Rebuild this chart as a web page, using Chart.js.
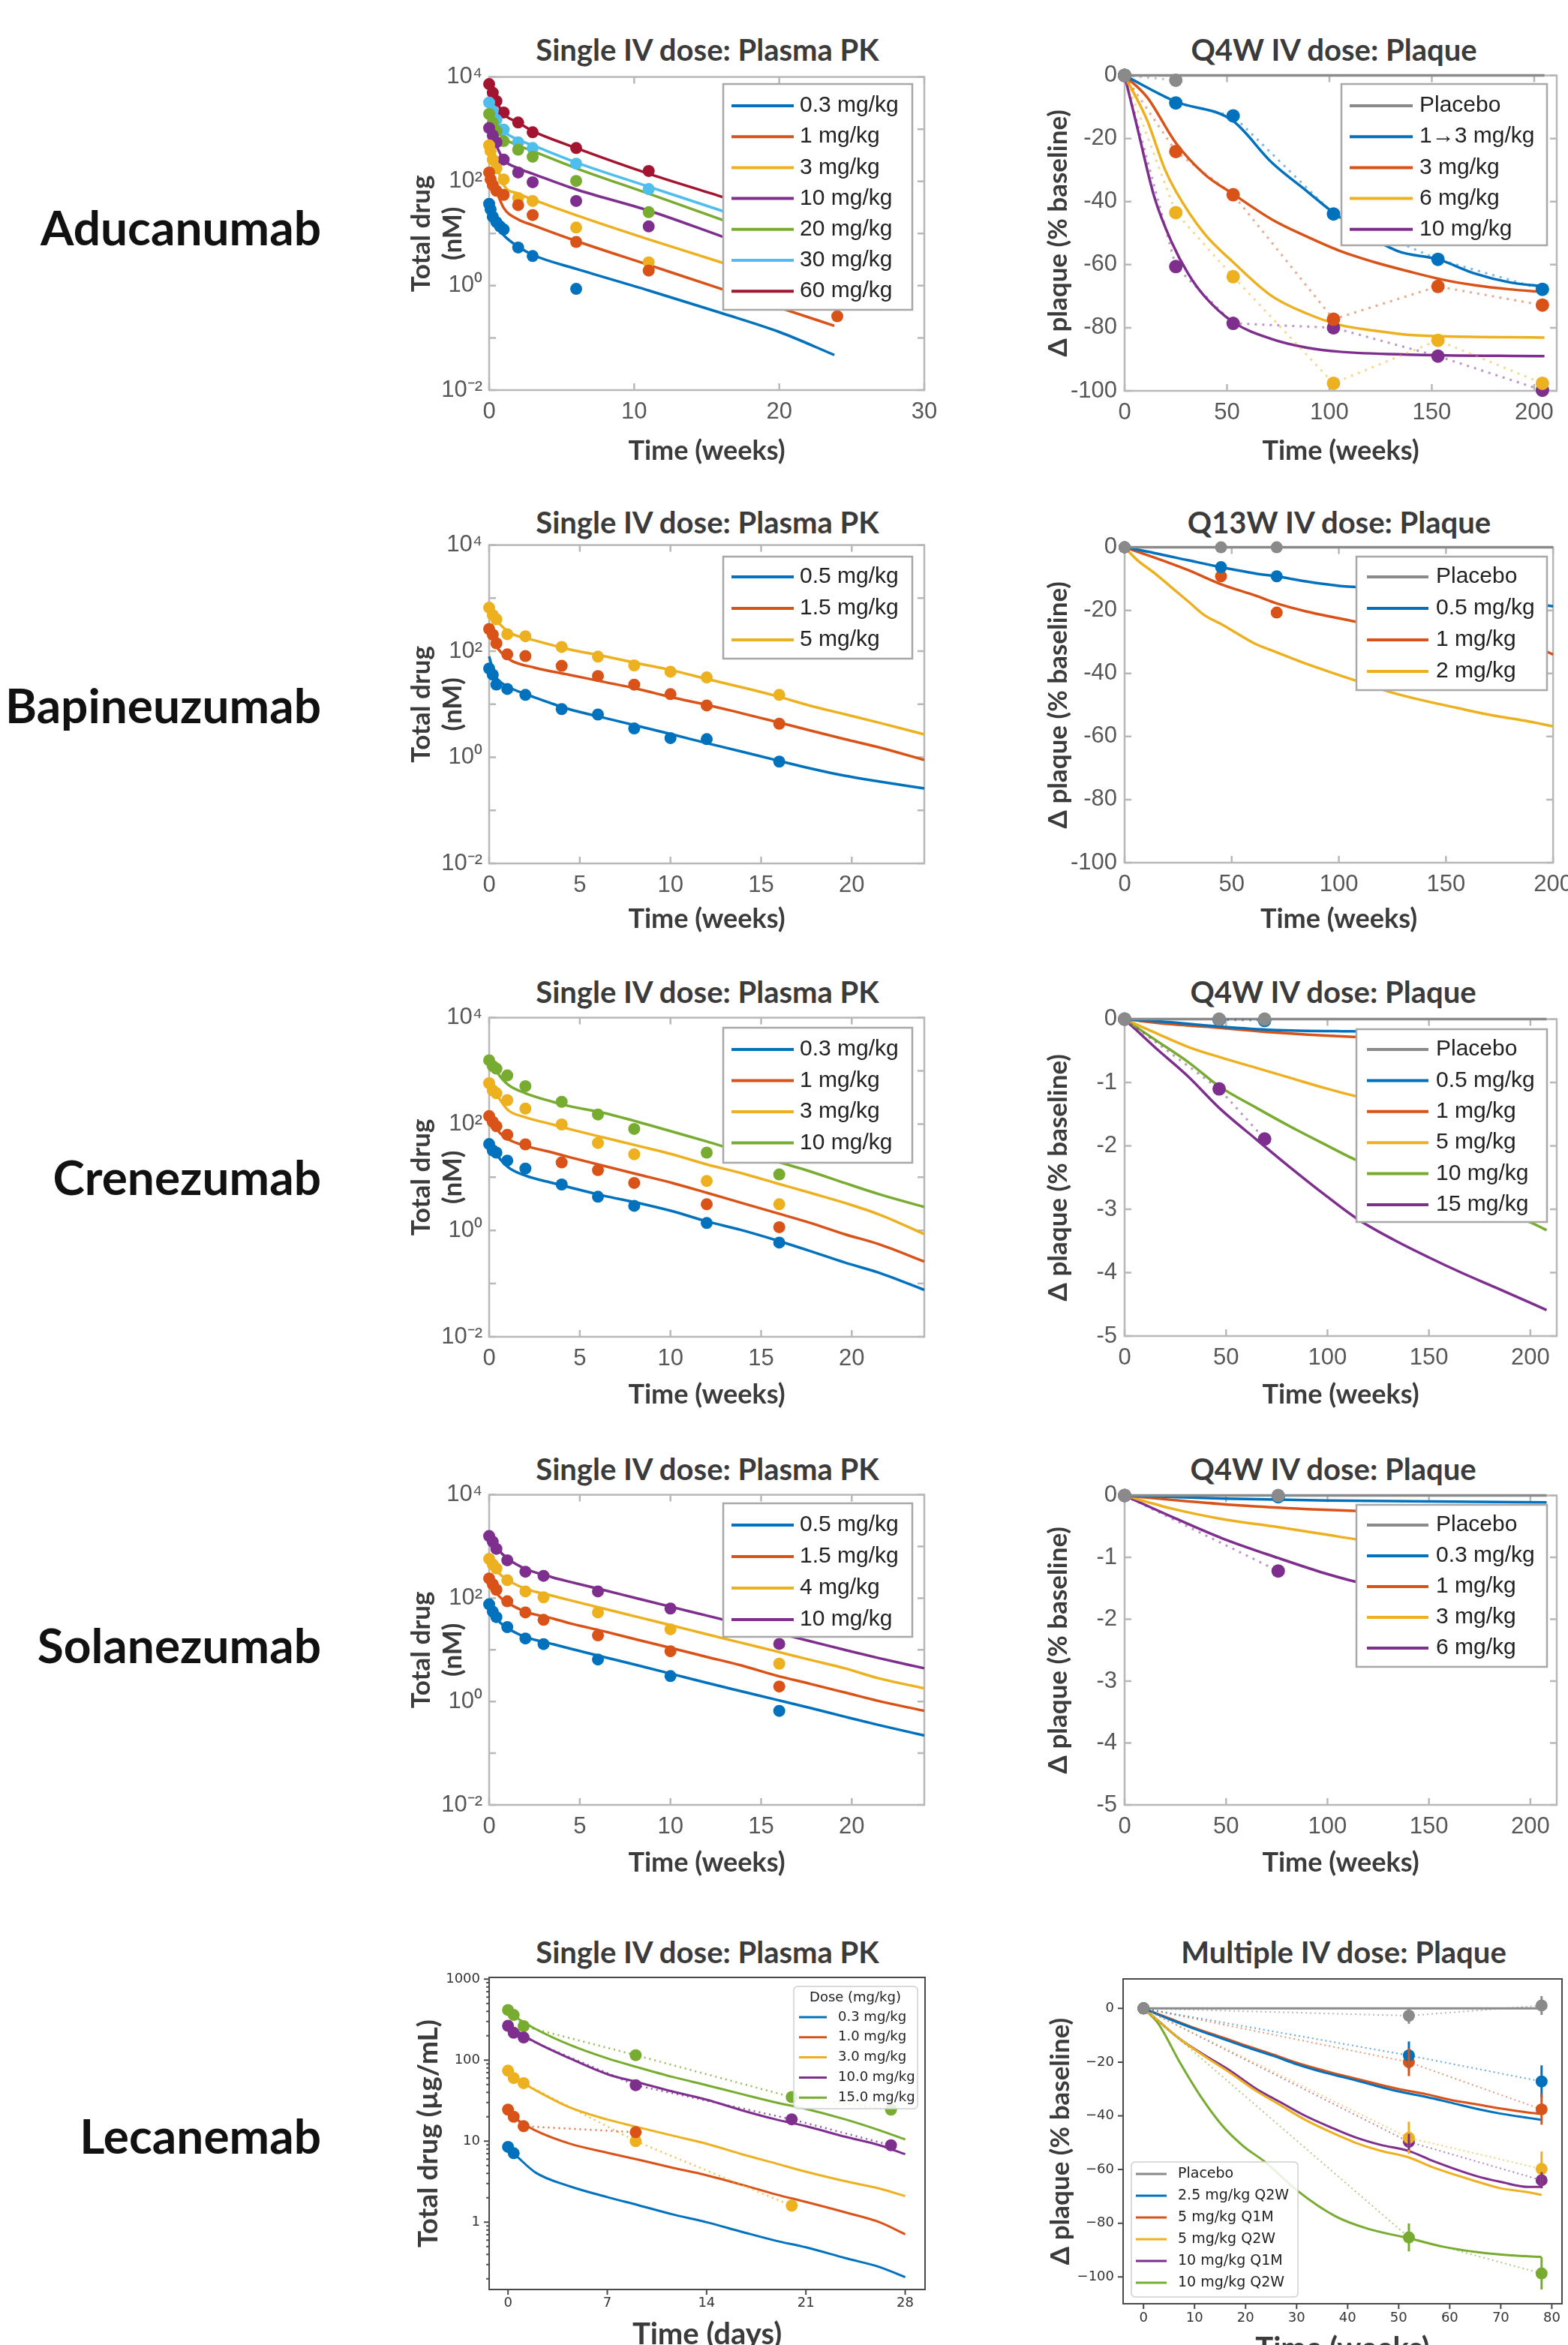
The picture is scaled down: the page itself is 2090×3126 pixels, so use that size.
<!DOCTYPE html>
<html><head><meta charset="utf-8"><title>Anti-amyloid antibodies: plasma PK and plaque</title>
<script src="https://cdn.jsdelivr.net/npm/chart.js@4.4.1/dist/chart.umd.min.js"></script>
<style>
html,body{margin:0;padding:0;background:#fff;}
body{width:2090px;height:3126px;overflow:hidden;position:relative;}
canvas{position:absolute;}
.rl{position:absolute;right:1662px;font:700 64px Lato,sans-serif;color:#111;line-height:1;white-space:nowrap;transform:translateY(-50%);}
.pt{position:absolute;font:700 40px Lato,sans-serif;color:#3b3b3b;line-height:1;white-space:nowrap;transform:translate(-50%,-50%);}
</style></head><body>
<div class="rl" style="top:303px">Aducanumab</div>
<div class="rl" style="top:940px">Bapineuzumab</div>
<div class="rl" style="top:1569px">Crenezumab</div>
<div class="rl" style="top:2193px">Solanezumab</div>
<div class="rl" style="top:2847px">Lecanemab</div>

<div class="pt" style="left:943px;top:66px">Single IV dose: Plasma PK</div>
<div class="pt" style="left:1778px;top:66px">Q4W IV dose: Plaque</div>
<div class="pt" style="left:943px;top:696px">Single IV dose: Plasma PK</div>
<div class="pt" style="left:1785px;top:696px">Q13W IV dose: Plaque</div>
<div class="pt" style="left:943px;top:1322px">Single IV dose: Plasma PK</div>
<div class="pt" style="left:1777px;top:1322px">Q4W IV dose: Plaque</div>
<div class="pt" style="left:943px;top:1958px">Single IV dose: Plasma PK</div>
<div class="pt" style="left:1777px;top:1958px">Q4W IV dose: Plaque</div>
<div class="pt" style="left:943px;top:2602px">Single IV dose: Plasma PK</div>
<div class="pt" style="left:1791px;top:2602px">Multiple IV dose: Plaque</div>

<canvas id="cA" width="721" height="548" style="left:541px;top:75px"></canvas>
<canvas id="cB" width="715" height="551" style="left:1390px;top:72px"></canvas>
<canvas id="cC" width="721" height="548" style="left:541px;top:699px"></canvas>
<canvas id="cD" width="717" height="546" style="left:1390px;top:701px"></canvas>
<canvas id="cE" width="721" height="552" style="left:541px;top:1329px"></canvas>
<canvas id="cF" width="715" height="551" style="left:1390px;top:1330px"></canvas>
<canvas id="cG" width="721" height="540" style="left:541px;top:1965px"></canvas>
<canvas id="cH" width="715" height="540" style="left:1390px;top:1965px"></canvas>
<canvas id="cI" width="714" height="524" style="left:549px;top:2612px"></canvas>
<canvas id="cJ" width="719" height="541" style="left:1393px;top:2614px"></canvas>

<script>
// ================= DATA =================
// ---- tick values / labels ----
const pkYTicks = [0.01, 0.1, 1, 10, 100, 1000, 10000];
const pkYTickLabels = ['10\u207B\u00B2', '', '10\u2070', '', '10\u00B2', '', '10\u2074'];
const aduPkXTicks = [0, 10, 20, 30];
const pkXTicks = [0, 5, 10, 15, 20];
const plqXTicks = [0, 50, 100, 150, 200];
const plqYTicks100 = [-100, -80, -60, -40, -20, 0];
const plqYTicks5 = [-5, -4, -3, -2, -1, 0];
const lecPkXTicks = [0, 7, 14, 21, 28];
const lecPkYTicks = [1, 10, 100, 1000];
const lecPkYTickLabels = ['1', '10', '100', '1000'];
const lecPlqXTicks = [0, 10, 20, 30, 40, 50, 60, 70, 80];
const lecPlqYTicks = [-100, -80, -60, -40, -20, 0];
const lecPlqYTickLabels = ['\u2212100', '\u221280', '\u221260', '\u221240', '\u221220', '0'];

// ---- Aducanumab: plasma PK (nM) ----
const aduPkDoses = ['0.3 mg/kg', '1 mg/kg', '3 mg/kg', '10 mg/kg', '20 mg/kg', '30 mg/kg', '60 mg/kg'];
const aduPkModelT = [0, 0.5, 1, 2, 3, 6, 11, 16, 20, 23.8];
const aduPkModel = [
  [31, 14.5, 9.3, 5.6, 3.9, 2.1, 0.81, 0.30, 0.13, 0.047],
  [178, 66, 31, 18.6, 14.5, 7.2, 2.5, 0.87, 0.38, 0.17],
  [560, 205, 85, 58, 45, 22.4, 7.7, 2.8, 1.2, 0.52],
  [1260, 490, 262, 178, 140, 70, 27.5, 8.9, 3.6, 1.6],
  [2500, 1050, 680, 490, 380, 178, 58, 18.6, 7.8, 3.5],
  [3900, 1500, 920, 630, 490, 230, 79, 27.5, 11.3, 5.0],
  [7800, 3450, 1950, 1340, 920, 435, 140, 51, 21.5, 9.4]
];
const aduPkObsT = [
  [0, 0.1, 0.25, 0.5, 0.75, 1, 2, 3, 6],
  [0, 0.1, 0.25, 0.5, 1, 2, 3, 6, 11, 24],
  [0, 0.1, 0.25, 0.5, 1, 2, 3, 6, 11],
  [0, 0.25, 0.5, 1, 2, 3, 6, 11],
  [0, 0.25, 0.5, 1, 2, 3, 6, 11],
  [0, 0.25, 0.5, 1, 2, 3, 6, 11],
  [0, 0.25, 0.5, 1, 2, 3, 6, 11]
];
const aduPkObs = [
  [37, 29, 21, 16.5, 13.7, 12, 5.4, 3.7, 0.87],
  [148, 109, 85, 66, 55, 35, 22.6, 6.9, 1.95, 0.26],
  [490, 380, 262, 178, 109, 48, 42, 13, 2.8],
  [1050, 760, 560, 262, 148, 96, 42, 13.7],
  [1950, 1340, 920, 590, 405, 296, 102, 25.7],
  [3240, 2240, 1510, 980, 560, 435, 218, 71],
  [7300, 5000, 3450, 2090, 1340, 870, 435, 158]
];

// ---- Aducanumab: plaque (% change) ----
const aduPlqGroups = ['Placebo', '1\u21923 mg/kg', '3 mg/kg', '6 mg/kg', '10 mg/kg'];
const aduPlqModelT = [
  [0, 205],
  [0, 25, 52.5, 72, 89, 102, 133, 153, 171, 188, 205],
  [0, 11, 25, 39, 53, 72, 89, 105, 122, 138, 155, 171, 188, 205],
  [0, 11, 19.5, 25, 39, 53, 72, 89, 105, 122, 138, 155, 205],
  [0, 6, 14.5, 23, 31, 39, 53, 72, 89, 105, 138, 205]
];
const aduPlqModel = [
  [0, 0],
  [0, -8.3, -14.2, -27.7, -36.7, -43.5, -55.6, -58.3, -62.8, -65.6, -66.9],
  [0, -6.9, -21.4, -31.3, -37.6, -45.7, -51.1, -55.6, -59.2, -62, -64.7, -66.5, -67.8, -68.7],
  [0, -14.2, -29.5, -36.7, -50.2, -59.2, -70, -75.5, -79.1, -80.9, -82.2, -82.7, -83.1],
  [0, -16, -38.5, -52.9, -62.8, -70, -78.2, -83.6, -86.3, -87.6, -88.5, -89]
];
const aduPlqObsT = [[0, 25], [0, 25, 53, 102, 153, 204], [0, 25, 53, 102, 153, 204], [0, 25, 53, 102, 153, 204], [0, 25, 53, 102, 153, 204]];
const aduPlqObs = [
  [0, -1.5],
  [0, -8.7, -12.8, -43.9, -58.3, -67.8],
  [0, -24.1, -37.8, -77.3, -66.9, -72.8],
  [0, -43.5, -63.8, -97.6, -84, -97.6],
  [0, -60.6, -78.6, -80, -89, -99.8]
];

// ---- Bapineuzumab: plasma PK ----
const bapPkDoses = ['0.5 mg/kg', '1.5 mg/kg', '5 mg/kg'];
const bapPkModelT = [0, 0.3, 0.7, 1.2, 2.5, 4.4, 6.3, 8.2, 10.1, 12, 13.9, 15.8, 17.7, 19.6, 21.5, 24];
const bapPkModel = [
  [80, 36, 25, 20, 13.5, 8.1, 5.6, 3.9, 2.7, 1.85, 1.29, 0.89, 0.62, 0.45, 0.35, 0.26],
  [295, 141, 92, 67, 49, 36, 26.5, 19.4, 13.4, 9.8, 6.8, 4.7, 3.2, 2.2, 1.54, 0.89],
  [790, 430, 297, 218, 160, 109, 81, 59, 43.5, 30, 21, 14.4, 9.4, 6.5, 4.5, 2.7]
];
const bapPkObsT = [0, 0.2, 0.4, 1, 2, 4, 6, 8, 10, 12, 16];
const bapPkObs = [
  [47, 36, 23.5, 19.4, 15, 8.1, 6.4, 3.5, 2.3, 2.2, 0.83],
  [262, 205, 141, 87, 81, 53, 34, 23.4, 15.5, 9.5, 4.3],
  [660, 480, 400, 209, 191, 120, 79, 54, 41, 32, 15]
];

// ---- Bapineuzumab: plaque ----
const bapPlqGroups = ['Placebo', '0.5 mg/kg', '1 mg/kg', '2 mg/kg'];
const bapPlqModelT = [
  [0, 200],
  [0, 13.8, 29.6, 45, 61, 71, 84.6, 100, 108, 191.5, 200],
  [0, 13.8, 29.6, 45, 61, 71, 84.6, 100, 108, 191.5, 200],
  [0, 6, 13.8, 21.7, 29.6, 37.4, 45, 53, 61, 71, 84.6, 100, 108, 124, 139.6, 155, 171, 187, 200]
];
const bapPlqModel = [
  [0, 0],
  [0, -1.8, -4.1, -6.3, -8.3, -9.2, -10.8, -12.2, -12.6, -18, -18.7],
  [0, -3.2, -7.2, -11.7, -15.3, -17.8, -20.3, -22.5, -23.6, -31.5, -34],
  [0, -4.1, -8.1, -12.6, -17.1, -21.6, -24.3, -27.5, -30.6, -33.3, -36.9, -40.5, -42.3, -45.9, -48.6, -50.9, -53.2, -55, -56.8]
];
const bapPlqObsT = [[0, 45, 71], [0, 45, 71], [0, 45, 71], []];
const bapPlqObs = [[0, 0, 0], [0, -6.3, -9.2], [0, -9.2, -20.7], []];

// ---- Crenezumab: plasma PK ----
const crePkDoses = ['0.3 mg/kg', '1 mg/kg', '3 mg/kg', '10 mg/kg'];
const crePkModelT = [0, 0.47, 1.04, 2, 3.5, 4.4, 6.3, 8.2, 10.1, 12, 13.9, 15.8, 17.7, 19.6, 21.5, 24];
const crePkModel = [
  [47, 25, 15.5, 10.7, 7.8, 6.5, 4.5, 3.3, 2.3, 1.48, 1.02, 0.66, 0.41, 0.25, 0.16, 0.076],
  [162, 76, 52, 39, 29, 24, 16.4, 11.3, 7.8, 5.1, 3.3, 2.15, 1.39, 0.85, 0.55, 0.26],
  [620, 335, 183, 134, 98, 81, 56, 39, 27, 17.4, 12, 7.8, 5.1, 3.3, 2, 0.85],
  [1900, 910, 550, 380, 262, 218, 162, 110, 72, 47, 30, 20, 12.9, 7.8, 4.8, 2.75]
];
const crePkObsT = [0, 0.2, 0.4, 1, 2, 4, 6, 8, 12, 16];
const crePkObs = [
  [42, 32, 29, 20.5, 14.6, 7.3, 4.3, 2.9, 1.38, 0.59],
  [141, 110, 91, 63, 41.5, 19, 13.6, 7.8, 3.1, 1.15],
  [585, 430, 380, 282, 195, 98, 44, 27, 8.5, 3.1],
  [1580, 1230, 1100, 820, 515, 262, 151, 81, 29, 11.3]
];

// ---- Crenezumab: plaque ----
const crePlqGroups = ['Placebo', '0.5 mg/kg', '1 mg/kg', '5 mg/kg', '10 mg/kg', '15 mg/kg'];
const crePlqModelT = [
  [0, 208],
  [0, 23, 48, 73, 107, 208],
  [0, 23, 48, 73, 107, 208],
  [0, 14.8, 31.5, 48, 65, 82, 99, 114.6, 208],
  [0, 14.8, 31.5, 46.6, 65, 82, 99, 114.6, 201, 208],
  [0, 14.8, 31.5, 46.6, 65, 82, 99, 114.6, 132, 150, 166, 182.5, 208]
];
const crePlqModel = [
  [0, 0],
  [0, -0.05, -0.12, -0.17, -0.19, -0.2],
  [0, -0.08, -0.14, -0.21, -0.27, -0.37],
  [0, -0.21, -0.44, -0.61, -0.77, -0.93, -1.09, -1.22, -1.75],
  [0, -0.32, -0.68, -1.06, -1.40, -1.70, -1.98, -2.23, -3.22, -3.33],
  [0, -0.44, -0.91, -1.40, -1.90, -2.35, -2.78, -3.15, -3.47, -3.76, -4.0, -4.23, -4.59]
];
const crePlqObsT = [[0, 46.6, 69], [46.6, 69], [], [], [], [0, 46.6, 69]];
const crePlqObs = [[0, 0, 0], [-0.01, -0.02], [], [], [], [0, -1.10, -1.89]];

// ---- Solanezumab: plasma PK ----
const solPkDoses = ['0.5 mg/kg', '1.5 mg/kg', '4 mg/kg', '10 mg/kg'];
const solPkModelT = [0, 0.47, 1.04, 2, 3.5, 4.4, 6.3, 8.2, 10.1, 12, 13.9, 15.8, 17.7, 19.6, 21.5, 24];
const solPkModel = [
  [81, 38, 26, 17.7, 12.9, 10.7, 7.3, 5, 3.4, 2.3, 1.58, 1.09, 0.75, 0.51, 0.35, 0.22],
  [250, 118, 81, 55, 40.5, 33, 23, 15.6, 10.7, 7.3, 5, 3.2, 2.2, 1.5, 1.02, 0.66],
  [620, 325, 223, 152, 111, 92, 63, 43, 29.5, 20, 13.7, 9.4, 6.4, 4.4, 2.8, 1.8],
  [1700, 900, 575, 370, 252, 209, 144, 98, 67, 46, 31.5, 21.5, 14.7, 10, 6.9, 4.4]
];
const solPkObsT = [0, 0.2, 0.4, 1, 2, 3, 6, 10, 16];
const solPkObs = [
  [76, 55, 43, 27.5, 16.6, 12.9, 6.5, 3.1, 0.66],
  [240, 186, 145, 87, 53, 38, 19, 9.4, 1.95],
  [575, 450, 375, 223, 135, 104, 53, 25, 5.4],
  [1590, 1240, 900, 540, 325, 270, 135, 63, 13]
];

// ---- Solanezumab: plaque ----
const solPlqGroups = ['Placebo', '0.3 mg/kg', '1 mg/kg', '3 mg/kg', '6 mg/kg'];
const solPlqModelT = [
  [0, 208],
  [0, 50, 100, 208],
  [0, 23, 56.7, 90, 114.6, 208],
  [0, 23, 48, 73.5, 99, 114.6, 208],
  [0, 23, 48, 75.7, 99, 114.6, 208]
];
const solPlqModel = [
  [0, 0],
  [0, -0.05, -0.08, -0.11],
  [0, -0.07, -0.16, -0.22, -0.25, -0.34],
  [0, -0.21, -0.38, -0.50, -0.63, -0.71, -1.1],
  [0, -0.34, -0.69, -1.01, -1.26, -1.40, -2.05]
];
const solPlqObsT = [[0, 75.7], [75.7], [], [], [0, 75.7]];
const solPlqObs = [[0, 0], [-0.02], [], [], [0, -1.22]];

// ---- Lecanemab: plasma PK (ug/mL, days) ----
const lecPkDoses = ['0.3 mg/kg', '1.0 mg/kg', '3.0 mg/kg', '10.0 mg/kg', '15.0 mg/kg'];
const lecPkModelT = [0.5, 1.94, 4.36, 7, 9.2, 11.6, 14, 16.5, 18.9, 21, 23.8, 26.2, 28];
const lecPkModel = [
  [6.8, 4.1, 2.77, 2.04, 1.62, 1.25, 1.0, 0.76, 0.59, 0.49, 0.36, 0.28, 0.21],
  [19, 13.5, 9.3, 7.2, 5.9, 4.7, 3.8, 2.9, 2.2, 1.78, 1.32, 1.0, 0.71],
  [60, 42.5, 26, 18.5, 14.8, 11.7, 9.3, 6.9, 5.3, 4.2, 3.2, 2.6, 2.1],
  [235, 166, 105, 67, 53, 41, 32.5, 24, 18.5, 15.3, 11.3, 8.9, 6.9],
  [340, 242, 154, 105, 81, 62, 49, 38, 30, 25, 18.5, 13.6, 10.5]
];
const lecPkObsT = [[0, 0.4], [0, 0.4, 1.1, 9], [0, 0.4, 1.1, 9, 20], [0, 0.4, 1.1, 9, 20, 27], [0, 0.4, 1.1, 9, 20, 27]];
const lecPkObs = [
  [8.5, 7.1],
  [24.5, 20, 15.3, 12.9],
  [74, 60, 52, 10, 1.6],
  [265, 217, 190, 49, 18.6, 8.9],
  [415, 360, 262, 115, 35, 24.5]
];

// ---- Lecanemab: plaque (weeks) ----
const lecPlqGroups = ['Placebo', '2.5 mg/kg Q2W', '5 mg/kg Q1M', '5 mg/kg Q2W', '10 mg/kg Q1M', '10 mg/kg Q2W'];
const lecPlqT = [0, 5.5, 10, 15.5, 20, 25.5, 30, 35.5, 40, 45.5, 50, 55.5, 60, 65.5, 70, 75.5, 78];
const lecPlqT2 = [0, 2.8, 7.2, 12.1, 17, 21.9, 26.8, 31.7, 36.6, 41.5, 46.4, 52, 56.7, 65.5, 70, 75.5, 78];
const lecPlqModelT = [
  [0, 78], lecPlqT, lecPlqT, lecPlqT2, lecPlqT2,
  [0, 2.8, 7.2, 11.1, 15.5, 19.5, 23.9, 30.3, 37.6, 44, 52, 58.8, 65.5, 72, 78]
];
const lecPlqModel = [
  [0, 0],
  [0, -4.3, -7.6, -11.3, -14.3, -17.7, -20.8, -23.9, -26, -28.8, -30.9, -33, -35, -37.5, -39.2, -40.8, -41.5],
  [0, -4, -7.3, -10.8, -13.8, -17.2, -20.2, -23.2, -25.4, -28, -30, -32, -34, -35.8, -37.3, -38.8, -39.3],
  [0, -4.5, -11.5, -18, -24, -30.5, -36, -41.5, -46, -50, -53, -55.5, -59.2, -64.6, -67, -68.5, -69.5],
  [0, -4.5, -11.5, -17.6, -23.2, -29.7, -34.9, -40, -44.2, -48, -50.8, -53.1, -56.8, -62.6, -64.6, -66.5, -66.5],
  [0, -5.4, -20.4, -32.5, -43.8, -51.2, -57.3, -68.1, -77.4, -82.1, -85.6, -88.8, -90.8, -92, -92.6]
];
const lecPlqObsT = [0, 52, 78];
const lecPlqObs = [
  [0, -2.7, 1.1],
  [0, -17.5, -27.2],
  [0, -20, -37.6],
  [0, -48.2, -59.8],
  [0, -49.7, -64],
  [0, -85.3, -98.7]
];
const lecPlqErr = [
  [0, 3, 3.5],
  [0, 5.2, 6],
  [0, 5.2, 5.7],
  [0, 6, 6.5],
  [0, 3, 3],
  [0, 5.2, 6]
];

// ================= STYLE =================
const BLUE = '#0072BD', RED = '#D95319', YEL = '#EDB120', PUR = '#7E2F8E', GRN = '#77AC30', CYA = '#4DBEEE', MAR = '#A2142F', GRY = '#8a8a8a';
const aduPkColors = [BLUE, RED, YEL, PUR, GRN, CYA, MAR];
const pk3Colors = [BLUE, RED, YEL];
const pk4ColorsA = [BLUE, RED, YEL, GRN];
const pk4ColorsB = [BLUE, RED, YEL, PUR];
const lecPkColors = [BLUE, RED, YEL, PUR, GRN];
const plq5Colors = [GRY, BLUE, RED, YEL, PUR];
const plq4Colors = [GRY, BLUE, RED, YEL];
const plq6Colors = [GRY, BLUE, RED, YEL, GRN, PUR];
const lecPlqColors = [GRY, BLUE, RED, YEL, PUR, GRN];

// ================= PLUGINS =================
const FRAME = {}, LEG = {};
const framePlugin = {
  id: 'frame',
  beforeDatasetsDraw(chart) {
    const f = FRAME[chart.canvas.id]; if (!f) return;
    const ctx = chart.ctx, a = chart.chartArea, xs = chart.scales.x, ys = chart.scales.y;
    ctx.save();
    ctx.strokeStyle = f.color; ctx.lineWidth = f.width;
    ctx.strokeRect(a.left, a.top, a.right - a.left, a.bottom - a.top);
    const d = f.inward ? 1 : -1, L = f.len;
    ctx.beginPath();
    xs.ticks.forEach(t => {
      const px = xs.getPixelForValue(t.value);
      ctx.moveTo(px, a.bottom); ctx.lineTo(px, a.bottom - d * L);
      if (f.mirror) { ctx.moveTo(px, a.top); ctx.lineTo(px, a.top + d * L); }
    });
    ys.ticks.forEach(t => {
      const py = ys.getPixelForValue(t.value);
      ctx.moveTo(a.left, py); ctx.lineTo(a.left + d * L, py);
      if (f.mirror) { ctx.moveTo(a.right, py); ctx.lineTo(a.right - d * L, py); }
    });
    if (f.minorLog) {
      for (let k = -1; k <= 3; k++) {
        for (let m = 2; m <= 9; m++) {
          const v = m * Math.pow(10, k);
          if (v < ys.min || v > ys.max) continue;
          const py = ys.getPixelForValue(v);
          ctx.moveTo(a.left, py); ctx.lineTo(a.left + d * L * 0.55, py);
        }
      }
    }
    ctx.stroke();
    ctx.restore();
  }
};
const errPlugin = {
  id: 'errBars',
  afterDatasetsDraw(chart) {
    const ctx = chart.ctx, ys = chart.scales.y;
    chart.data.datasets.forEach((ds, i) => {
      if (!ds.errY) return;
      const meta = chart.getDatasetMeta(i);
      ctx.save(); ctx.strokeStyle = ds.pointBackgroundColor; ctx.lineWidth = 3;
      ds.data.forEach((p, j) => {
        const e = ds.errY[j]; if (!e) return;
        const px = meta.data[j].x;
        ctx.beginPath();
        ctx.moveTo(px, ys.getPixelForValue(p.y - e));
        ctx.lineTo(px, ys.getPixelForValue(p.y + e));
        ctx.stroke();
      });
      ctx.restore();
    });
  }
};
const legendPlugin = {
  id: 'boxLegend',
  afterDatasetsDraw(chart) {
    const o = LEG[chart.canvas.id]; if (!o) return;
    const ctx = chart.ctx;
    ctx.save();
    ctx.beginPath();
    if (o.radius && ctx.roundRect) ctx.roundRect(o.x, o.y, o.w, o.h, o.radius); else ctx.rect(o.x, o.y, o.w, o.h);
    ctx.fillStyle = o.fill; ctx.fill();
    ctx.lineWidth = o.borderWidth; ctx.strokeStyle = o.border; ctx.stroke();
    ctx.font = o.font; ctx.textBaseline = 'middle';
    if (o.title) { ctx.textAlign = 'center'; ctx.fillStyle = o.color; ctx.fillText(o.title, o.titleX, o.titleY); }
    ctx.textAlign = 'left';
    let i = 0;
    chart.data.datasets.forEach(ds => {
      if (!ds.inLegend) return;
      const yy = o.y0 + i * o.dy;
      ctx.beginPath(); ctx.moveTo(o.lx1, yy); ctx.lineTo(o.lx2, yy);
      ctx.strokeStyle = ds.borderColor; ctx.lineWidth = o.lineW; ctx.lineCap = 'butt'; ctx.setLineDash([]); ctx.stroke();
      ctx.fillStyle = o.color; ctx.fillText(ds.label, o.tx, yy);
      i++;
    });
    ctx.restore();
  }
};

// ================= BUILDERS =================
function pts(ts, vs) { return vs.map((v, i) => ({ x: ts[i], y: v })); }
function pick(arr, k) { return Array.isArray(arr[0]) ? arr[k] : arr; }
function buildDatasets(labels, colors, modelT, model, obsT, obs, st, errs) {
  const out = [];
  labels.forEach((lab, k) => {
    out.push({
      label: lab, inLegend: true, data: pts(pick(modelT, k), model[k]),
      borderColor: colors[k], backgroundColor: colors[k], borderWidth: st.lw,
      pointRadius: 0, pointHoverRadius: 0, cubicInterpolationMode: 'monotone',
      fill: false, clip: false, order: 2
    });
  });
  labels.forEach((lab, k) => {
    const v = obs[k]; if (!v || !v.length) return;
    out.push({
      label: '', inLegend: false, data: pts(pick(obsT, k), v),
      showLine: !!st.dotted, borderColor: st.dotted ? colors[k] + st.dotAlpha : colors[k],
      borderDash: st.dash, borderWidth: st.dotW, tension: 0,
      pointRadius: st.r, pointHoverRadius: st.r, pointBackgroundColor: colors[k],
      pointBorderColor: colors[k], pointBorderWidth: 0, clip: false, order: 1,
      errY: errs ? errs[k] : null
    });
  });
  return out;
}

const MAT_TICK_FONT = { family: 'Liberation Sans', size: 31 };
const MAT_TICK_COLOR = '#575757';
const TITLE_COLOR = '#3b3b3b';

function makeChart(p) {
  const cv = document.getElementById(p.id);
  const left = parseFloat(cv.style.left), top = parseFloat(cv.style.top);
  const mpl = p.style === 'mpl';
  FRAME[p.id] = mpl
    ? { color: '#4a4a4a', width: 2, len: 7, inward: false, mirror: false, minorLog: p.yType === 'logarithmic' }
    : { color: '#b8b8b8', width: 2.5, len: 9, inward: true, mirror: true, minorLog: false };
  const lg = p.legend;
  LEG[p.id] = {
    x: lg.box[0] - left, y: lg.box[1] - top, w: lg.box[2] - lg.box[0], h: lg.box[3] - lg.box[1],
    y0: lg.y0 - top, dy: lg.dy, lx1: lg.line[0] - left, lx2: lg.line[1] - left, tx: lg.tx - left,
    font: lg.font, color: lg.color, lineW: lg.lineW, border: lg.border, borderWidth: lg.bw,
    fill: lg.fill, radius: lg.radius || 0,
    title: lg.title || null, titleX: lg.title ? lg.titleXY[0] - left : 0, titleY: lg.title ? lg.titleXY[1] - top : 0
  };
  const tickFont = mpl ? { family: 'DejaVu Sans', size: 18 } : MAT_TICK_FONT;
  const tickColor = mpl ? '#333' : MAT_TICK_COLOR;
  new Chart(cv, {
    type: 'line',
    data: { datasets: p.datasets },
    options: {
      responsive: false, animation: false, devicePixelRatio: 1, events: [],
      layout: { padding: { left: 0, top: 24, right: 30, bottom: 0 } },
      plugins: { legend: { display: false }, tooltip: { enabled: false }, title: { display: false } },
      scales: {
        x: {
          type: 'linear', min: p.xMin, max: p.xMax,
          afterBuildTicks: s => { s.ticks = p.xTicks.map(v => ({ value: v })); },
          afterFit: s => { s.height = p.xH; },
          grid: { display: false, drawTicks: false }, border: { display: false },
          ticks: { autoSkip: false, maxRotation: 0, minRotation: 0, padding: p.xPad, font: tickFont, color: tickColor,
                   callback: (v, i) => (p.xLabels ? p.xLabels[i] : String(p.xTicks[i])) },
          title: { display: true, text: p.xTitle, font: { family: 'Lato', weight: 'bold', size: p.xTitleSize || 36 }, color: TITLE_COLOR, padding: 0 }
        },
        y: {
          type: p.yType, min: p.yMin, max: p.yMax,
          afterBuildTicks: s => { s.ticks = p.yTicks.map(v => ({ value: v })); },
          afterFit: s => { s.width = p.yW; },
          grid: { display: false, drawTicks: false }, border: { display: false },
          ticks: { autoSkip: false, padding: p.yPad, font: tickFont, color: tickColor,
                   callback: (v, i) => (p.yLabels ? p.yLabels[i] : String(p.yTicks[i])) },
          title: { display: true, text: p.yTitle, font: { family: 'Lato', weight: 'bold', size: p.yTitleSize || 35 }, color: TITLE_COLOR, padding: 0 }
        }
      }
    },
    plugins: [framePlugin, errPlugin, legendPlugin]
  });
}

const pkStyle = { lw: 3.5, r: 8, dotted: false, dash: [], dotW: 0, dotAlpha: '' };
const plqStyleDotted = { lw: 3.5, r: 9, dotted: true, dash: [3, 7], dotW: 3, dotAlpha: '80' };
const lecPkStyle = { lw: 3, r: 8, dotted: true, dash: [2, 5], dotW: 2.5, dotAlpha: 'cc' };
const lecPlqStyle = { lw: 3, r: 8, dotted: true, dash: [2, 4], dotW: 2, dotAlpha: '99' };

const matLegend = (box, y0, dy, line, tx) => ({ box, y0, dy, line, tx, font: '30px "Liberation Sans"', color: '#222', lineW: 4, border: '#a8a8a8', bw: 2.5, fill: '#ffffff' });
const pkY = { yType: 'logarithmic', yMin: 0.01, yMax: 10000, yTicks: pkYTicks, yLabels: pkYTickLabels, yTitle: ['Total drug', '(nM)'], yW: 111, yPad: 9 };
const plqYW = 109;

// ---- Row 1 ----
makeChart(Object.assign({ id: 'cA', style: 'mat', xMin: 0, xMax: 30, xTicks: aduPkXTicks, xH: 103, xPad: 11, xTitle: 'Time (weeks)',
  legend: matLegend([964, 112, 1216, 413], 141, 41.2, [975, 1058], 1066),
  datasets: buildDatasets(aduPkDoses, aduPkColors, aduPkModelT, aduPkModel, aduPkObsT, aduPkObs, pkStyle) }, pkY));
makeChart({ id: 'cB', style: 'mat', xMin: 0, xMax: 211, xTicks: plqXTicks, xH: 102, xPad: 11, xTitle: 'Time (weeks)',
  yType: 'linear', yMin: -100, yMax: 0, yTicks: plqYTicks100, yTitle: '\u0394 plaque (% baseline)', yW: plqYW, yPad: 10,
  legend: matLegend([1788, 112, 2062, 327], 141, 41.2, [1799, 1883], 1892),
  datasets: buildDatasets(aduPlqGroups, plq5Colors, aduPlqModelT, aduPlqModel, aduPlqObsT, aduPlqObs, plqStyleDotted) });

// ---- Row 2 ----
makeChart(Object.assign({ id: 'cC', style: 'mat', xMin: 0, xMax: 24, xTicks: pkXTicks, xH: 96, xPad: 11, xTitle: 'Time (weeks)',
  legend: matLegend([964, 742, 1216, 878], 769, 42, [975, 1058], 1066),
  datasets: buildDatasets(bapPkDoses, pk3Colors, bapPkModelT, bapPkModel, bapPkObsT, bapPkObs, pkStyle) }, pkY));
makeChart({ id: 'cD', style: 'mat', xMin: 0, xMax: 200, xTicks: plqXTicks, xH: 97, xPad: 11, xTitle: 'Time (weeks)',
  yType: 'linear', yMin: -100, yMax: 0, yTicks: plqYTicks100, yTitle: '\u0394 plaque (% baseline)', yW: plqYW, yPad: 10,
  legend: matLegend([1808, 742, 2062, 920], 769, 42, [1822, 1904], 1914),
  datasets: buildDatasets(bapPlqGroups, plq4Colors, bapPlqModelT, bapPlqModel, bapPlqObsT, bapPlqObs, pkStyle) });

// ---- Row 3 ----
makeChart(Object.assign({ id: 'cE', style: 'mat', xMin: 0, xMax: 24, xTicks: pkXTicks, xH: 99, xPad: 11, xTitle: 'Time (weeks)',
  legend: matLegend([964, 1370, 1216, 1550], 1399, 41.5, [975, 1058], 1066),
  datasets: buildDatasets(crePkDoses, pk4ColorsA, crePkModelT, crePkModel, crePkObsT, crePkObs, pkStyle) }, pkY));
makeChart({ id: 'cF', style: 'mat', xMin: 0, xMax: 213, xTicks: plqXTicks, xH: 100, xPad: 11, xTitle: 'Time (weeks)',
  yType: 'linear', yMin: -5, yMax: 0, yTicks: plqYTicks5, yTitle: '\u0394 plaque (% baseline)', yW: plqYW, yPad: 10,
  legend: matLegend([1808, 1372, 2062, 1629], 1399, 41.4, [1822, 1904], 1914),
  datasets: buildDatasets(crePlqGroups, plq6Colors, crePlqModelT, crePlqModel, crePlqObsT, crePlqObs, plqStyleDotted) });

// ---- Row 4 ----
makeChart(Object.assign({ id: 'cG', style: 'mat', xMin: 0, xMax: 24, xTicks: pkXTicks, xH: 99, xPad: 11, xTitle: 'Time (weeks)',
  legend: matLegend([964, 2004, 1216, 2182], 2033, 42, [975, 1058], 1066),
  datasets: buildDatasets(solPkDoses, pk4ColorsB, solPkModelT, solPkModel, solPkObsT, solPkObs, pkStyle) }, pkY));
makeChart({ id: 'cH', style: 'mat', xMin: 0, xMax: 213, xTicks: plqXTicks, xH: 99, xPad: 11, xTitle: 'Time (weeks)',
  yType: 'linear', yMin: -5, yMax: 0, yTicks: plqYTicks5, yTitle: '\u0394 plaque (% baseline)', yW: plqYW, yPad: 10,
  legend: matLegend([1808, 2006, 2062, 2222], 2033, 41, [1822, 1904], 1914),
  datasets: buildDatasets(solPlqGroups, plq5Colors, solPlqModelT, solPlqModel, solPlqObsT, solPlqObs, plqStyleDotted) });

// ---- Row 5 (Lecanemab) ----
makeChart({ id: 'cI', style: 'mpl', xMin: -1.33, xMax: 29.4, xTicks: lecPkXTicks, xH: 84, xPad: 8, xTitle: 'Time (days)', xTitleSize: 40,
  yType: 'logarithmic', yMin: 0.148, yMax: 1047, yTicks: lecPkYTicks, yLabels: lecPkYTickLabels, yTitle: 'Total drug (\u00B5g/mL)', yTitleSize: 37, yW: 103, yPad: 12,
  legend: { box: [1058, 2648, 1223, 2811], y0: 2689, dy: 26.8, line: [1065, 1102], tx: 1117, font: '18px "DejaVu Sans"', color: '#222', lineW: 3,
            border: '#cfcfcf', bw: 1.5, fill: 'rgba(255,255,255,0.85)', radius: 5, title: 'Dose (mg/kg)', titleXY: [1140, 2663] },
  datasets: buildDatasets(lecPkDoses, lecPkColors, lecPkModelT, lecPkModel, lecPkObsT, lecPkObs, lecPkStyle) });
makeChart({ id: 'cJ', style: 'mpl', xMin: -4, xMax: 82, xTicks: lecPlqXTicks, xH: 84, xPad: 9, xTitle: 'Time (weeks)', xTitleSize: 40,
  yType: 'linear', yMin: -110, yMax: 11, yTicks: lecPlqYTicks, yLabels: lecPlqYTickLabels, yTitle: '\u0394 plaque (% baseline)', yTitleSize: 35, yW: 104, yPad: 12,
  legend: { box: [1508, 2882, 1730, 3062], y0: 2898, dy: 29, line: [1514, 1555], tx: 1570, font: '19px "DejaVu Sans"', color: '#222', lineW: 3,
            border: '#cfcfcf', bw: 1.5, fill: 'rgba(255,255,255,0.85)', radius: 5 },
  datasets: buildDatasets(lecPlqGroups, lecPlqColors, lecPlqModelT, lecPlqModel, lecPlqObsT, lecPlqObs, lecPlqStyle, lecPlqErr) });
</script>
</body></html>
